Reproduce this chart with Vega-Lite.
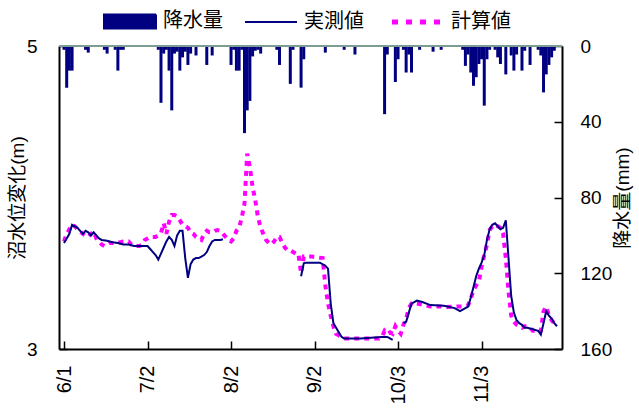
{
  "$schema": "https://vega.github.io/schema/vega-lite/v6.json",
  "autosize": "none",
  "width": 503,
  "height": 303,
  "padding": {"left": 59, "top": 46, "right": 77, "bottom": 61},
  "background": "white",
  "config": {
    "view": {"stroke": null},
    "font": "'Liberation Sans', 'Noto Sans CJK JP', sans-serif"
  },
  "datasets": {
    "rain": [
      {"d":0,"mm":2},{"d":1,"mm":22},{"d":2,"mm":13},{"d":3,"mm":13},{"d":8,"mm":2},{"d":9,"mm":3.5},{"d":15,"mm":2},{"d":16,"mm":4},{"d":19,"mm":2},{"d":20,"mm":13},{"d":21,"mm":2},{"d":22,"mm":2},
      {"d":35,"mm":2},{"d":36,"mm":30},{"d":37,"mm":4},{"d":38,"mm":2},{"d":39,"mm":13},{"d":40,"mm":34},{"d":41,"mm":4},{"d":42,"mm":3},{"d":43,"mm":13},{"d":44,"mm":6},{"d":45,"mm":3},{"d":46,"mm":10},{"d":47,"mm":4},{"d":49,"mm":5},{"d":53,"mm":10},{"d":55,"mm":5},
      {"d":62,"mm":10},{"d":63,"mm":2},{"d":64,"mm":13},{"d":65,"mm":13},{"d":66,"mm":2},{"d":67,"mm":46},{"d":68,"mm":34},{"d":69,"mm":29},{"d":70,"mm":5.5},{"d":71,"mm":2.5},{"d":72,"mm":2},{"d":73,"mm":4},{"d":79,"mm":2},{"d":80,"mm":10},{"d":84,"mm":20},{"d":85,"mm":2},{"d":88,"mm":22},{"d":89,"mm":7},
      {"d":97,"mm":3.5},{"d":104,"mm":2},{"d":108,"mm":4.5},{"d":119,"mm":36},{"d":120,"mm":4.5},{"d":123,"mm":19},{"d":124,"mm":7},{"d":126,"mm":2},{"d":127,"mm":14},{"d":128,"mm":4.5},{"d":129,"mm":14},{"d":132,"mm":2},{"d":137,"mm":3},{"d":140,"mm":2},
      {"d":148,"mm":2},{"d":149,"mm":10.5},{"d":150,"mm":4.5},{"d":151,"mm":14},{"d":152,"mm":21},{"d":153,"mm":16.5},{"d":154,"mm":9.5},{"d":155,"mm":7},{"d":156,"mm":31.5},{"d":157,"mm":7},{"d":158,"mm":2},
      {"d":160,"mm":2},{"d":161,"mm":6},{"d":162,"mm":9.5},{"d":164,"mm":15},{"d":166,"mm":5},{"d":167,"mm":13},{"d":168,"mm":4.5},{"d":170,"mm":13},{"d":171,"mm":2.5},{"d":173,"mm":10},{"d":176,"mm":2},{"d":177,"mm":5},{"d":178,"mm":24.5},{"d":179,"mm":15},{"d":180,"mm":10},{"d":181,"mm":6},{"d":182,"mm":2.5}
    ],
    "obs": [
      {"d":0,"v":3.70,"s":1},{"d":1,"v":3.73,"s":1},{"d":2,"v":3.76,"s":1},{"d":3,"v":3.82,"s":1},{"d":4,"v":3.81,"s":1},{"d":5,"v":3.80,"s":1},{"d":6,"v":3.78,"s":1},{"d":7,"v":3.76,"s":1},{"d":8,"v":3.78,"s":1},{"d":9,"v":3.77,"s":1},{"d":10,"v":3.75,"s":1},{"d":11,"v":3.77,"s":1},{"d":12,"v":3.75,"s":1},{"d":13,"v":3.73,"s":1},{"d":14,"v":3.72,"s":1},{"d":16,"v":3.715,"s":1},{"d":18,"v":3.705,"s":1},{"d":20,"v":3.70,"s":1},{"d":22,"v":3.69,"s":1},{"d":24,"v":3.69,"s":1},{"d":26,"v":3.68,"s":1},{"d":28,"v":3.68,"s":1},{"d":30,"v":3.68,"s":1},{"d":31,"v":3.68,"s":1},{"d":32,"v":3.66,"s":1},{"d":33,"v":3.64,"s":1},{"d":34,"v":3.62,"s":1},{"d":35,"v":3.59,"s":1},{"d":36,"v":3.63,"s":1},{"d":37,"v":3.67,"s":1},{"d":38,"v":3.71,"s":1},{"d":39,"v":3.74,"s":1},{"d":40,"v":3.72,"s":1},{"d":41,"v":3.68,"s":1},{"d":42,"v":3.75,"s":1},{"d":43,"v":3.78,"s":1},{"d":44,"v":3.78,"s":1},{"d":45,"v":3.60,"s":1},{"d":46,"v":3.47,"s":1},{"d":47,"v":3.56,"s":1},{"d":48,"v":3.59,"s":1},{"d":49,"v":3.60,"s":1},{"d":50,"v":3.60,"s":1},{"d":51,"v":3.61,"s":1},{"d":52,"v":3.62,"s":1},{"d":53,"v":3.64,"s":1},{"d":54,"v":3.68,"s":1},{"d":55,"v":3.71,"s":1},{"d":56,"v":3.72,"s":1},{"d":57,"v":3.72,"s":1},{"d":58,"v":3.72,"s":1},{"d":59,"v":3.725,"s":1},
      {"d":88,"v":3.48,"s":2},{"d":89,"v":3.565,"s":2},{"d":90,"v":3.57,"s":2},{"d":95,"v":3.57,"s":2},{"d":97,"v":3.55,"s":2},{"d":98,"v":3.53,"s":2},{"d":99,"v":3.30,"s":2},{"d":100,"v":3.17,"s":2},{"d":101,"v":3.14,"s":2},{"d":102,"v":3.11,"s":2},{"d":103,"v":3.08,"s":2},{"d":104,"v":3.07,"s":2},{"d":110,"v":3.07,"s":2},{"d":118,"v":3.08,"s":2},{"d":120,"v":3.08,"s":2},{"d":121,"v":3.07,"s":2},{"d":122,"v":3.06,"s":2},
      {"d":126,"v":3.17,"s":3},{"d":127,"v":3.18,"s":3},{"d":128,"v":3.24,"s":3},{"d":129,"v":3.30,"s":3},{"d":131,"v":3.32,"s":3},{"d":133,"v":3.31,"s":3},{"d":136,"v":3.29,"s":3},{"d":141,"v":3.285,"s":3},{"d":145,"v":3.27,"s":3},{"d":147,"v":3.25,"s":3},{"d":148,"v":3.26,"s":3},{"d":150,"v":3.28,"s":3},{"d":151,"v":3.34,"s":3},{"d":152,"v":3.41,"s":3},{"d":153,"v":3.48,"s":3},{"d":154,"v":3.53,"s":3},{"d":155,"v":3.57,"s":3},{"d":156,"v":3.62,"s":3},{"d":157,"v":3.72,"s":3},{"d":158,"v":3.79,"s":3},{"d":159,"v":3.82,"s":3},{"d":160,"v":3.83,"s":3},{"d":161,"v":3.81,"s":3},{"d":162,"v":3.79,"s":3},{"d":163,"v":3.80,"s":3},{"d":164,"v":3.85,"s":3},{"d":165,"v":3.60,"s":3},{"d":166,"v":3.35,"s":3},{"d":167,"v":3.24,"s":3},{"d":168,"v":3.19,"s":3},{"d":169,"v":3.17,"s":3},{"d":170,"v":3.16,"s":3},{"d":171,"v":3.14,"s":3},{"d":172,"v":3.14,"s":3},{"d":174,"v":3.13,"s":3},{"d":176,"v":3.12,"s":3},{"d":177,"v":3.095,"s":3},{"d":178,"v":3.17,"s":3},{"d":179,"v":3.25,"s":3},{"d":180,"v":3.22,"s":3},{"d":181,"v":3.20,"s":3},{"d":182,"v":3.17,"s":3},{"d":183,"v":3.15,"s":3}
    ],
    "calc": [
      {"d":0,"v":3.71},{"d":1,"v":3.76},{"d":2,"v":3.79},{"d":3,"v":3.82},{"d":4,"v":3.81},{"d":5,"v":3.79},{"d":6,"v":3.775},{"d":7,"v":3.76},{"d":8,"v":3.75},{"d":9,"v":3.74},{"d":10,"v":3.76},{"d":11,"v":3.775},{"d":12,"v":3.73},{"d":13,"v":3.71},{"d":14,"v":3.69},{"d":15,"v":3.68},{"d":16,"v":3.69},{"d":17,"v":3.70},{"d":18,"v":3.70},{"d":20,"v":3.70},{"d":22,"v":3.71},{"d":24,"v":3.71},{"d":25,"v":3.69},{"d":26,"v":3.68},{"d":28,"v":3.68},{"d":29,"v":3.69},{"d":30,"v":3.72},{"d":31,"v":3.73},{"d":32,"v":3.74},{"d":34,"v":3.74},{"d":35,"v":3.75},{"d":36,"v":3.765},{"d":37,"v":3.83},{"d":38,"v":3.76},{"d":39,"v":3.84},{"d":40,"v":3.885},{"d":41,"v":3.885},{"d":42,"v":3.875},{"d":43,"v":3.85},{"d":44,"v":3.82},{"d":45,"v":3.81},{"d":46,"v":3.80},{"d":47,"v":3.77},{"d":48,"v":3.76},{"d":49,"v":3.74},{"d":50,"v":3.73},{"d":51,"v":3.72},{"d":52,"v":3.76},{"d":53,"v":3.78},{"d":54,"v":3.77},{"d":55,"v":3.77},{"d":56,"v":3.78},{"d":57,"v":3.785},{"d":58,"v":3.78},{"d":59,"v":3.76},{"d":60,"v":3.74},{"d":61,"v":3.72},{"d":62,"v":3.71},{"d":63,"v":3.73},{"d":64,"v":3.78},{"d":65,"v":3.80},{"d":66,"v":3.87},{"d":67,"v":3.96},{"d":68,"v":4.29},{"d":69,"v":4.20},{"d":70,"v":4.07},{"d":71,"v":3.98},{"d":72,"v":3.87},{"d":73,"v":3.80},{"d":74,"v":3.76},{"d":75,"v":3.72},{"d":76,"v":3.70},{"d":77,"v":3.69},{"d":78,"v":3.71},{"d":79,"v":3.74},{"d":80,"v":3.74},{"d":81,"v":3.70},{"d":82,"v":3.67},{"d":83,"v":3.65},{"d":84,"v":3.65},{"d":85,"v":3.64},{"d":86,"v":3.63},{"d":87,"v":3.63},{"d":88,"v":3.50},{"d":89,"v":3.61},{"d":92,"v":3.61},{"d":96,"v":3.60},{"d":97,"v":3.42},{"d":98,"v":3.30},{"d":99,"v":3.22},{"d":100,"v":3.15},{"d":101,"v":3.10},{"d":102,"v":3.09},{"d":103,"v":3.08},{"d":104,"v":3.07},{"d":110,"v":3.07},{"d":117,"v":3.07},{"d":118,"v":3.08},{"d":119,"v":3.12},{"d":120,"v":3.10},{"d":121,"v":3.11},{"d":122,"v":3.10},{"d":123,"v":3.15},{"d":124,"v":3.12},{"d":125,"v":3.10},{"d":126,"v":3.16},{"d":127,"v":3.20},{"d":128,"v":3.27},{"d":129,"v":3.30},{"d":131,"v":3.30},{"d":134,"v":3.29},{"d":136,"v":3.28},{"d":140,"v":3.28},{"d":142,"v":3.277},{"d":146,"v":3.28},{"d":148,"v":3.28},{"d":150,"v":3.29},{"d":151,"v":3.33},{"d":152,"v":3.39},{"d":153,"v":3.42},{"d":154,"v":3.445},{"d":155,"v":3.545},{"d":156,"v":3.62},{"d":157,"v":3.69},{"d":158,"v":3.785},{"d":159,"v":3.81},{"d":160,"v":3.82},{"d":161,"v":3.81},{"d":162,"v":3.80},{"d":163,"v":3.76},{"d":164,"v":3.60},{"d":165,"v":3.38},{"d":166,"v":3.22},{"d":167,"v":3.18},{"d":168,"v":3.16},{"d":169,"v":3.15},{"d":170,"v":3.14},{"d":171,"v":3.15},{"d":172,"v":3.15},{"d":173,"v":3.14},{"d":174,"v":3.12},{"d":175,"v":3.12},{"d":176,"v":3.11},{"d":177,"v":3.12},{"d":178,"v":3.25},{"d":179,"v":3.28},{"d":180,"v":3.22},{"d":181,"v":3.19},{"d":182,"v":3.17},{"d":183,"v":3.15}
    ]
  },
  "layer": [
    {
      "data": {"name": "rain"},
      "mark": {"type": "bar", "size": 3},
      "encoding": {
        "x": {
          "field": "d", "type": "quantitative",
          "scale": {"domain": [0, 183], "nice": false, "zero": false},
          "axis": {
            "values": [0, 31, 62, 93, 124, 155],
            "labelExpr": "timeFormat(datetime(2001, 5, 1 + datum.value), '%-m/%-d')",
            "labelAngle": 270, "labelFlush": false, "labelOverlap": false,
            "labelFontSize": 20, "labelColor": "black", "labelPadding": 24,
            "tickSize": -8, "tickColor": "black", "tickWidth": 1.5,
            "domainColor": "black", "domainWidth": 2,
            "grid": false, "title": null
          }
        },
        "y": {
          "field": "mm", "type": "quantitative",
          "scale": {"domain": [0, 160], "reverse": true, "nice": false},
          "axis": {
            "orient": "right", "values": [0, 40, 80, 120, 160],
            "labelFontSize": 19, "labelColor": "black", "labelPadding": 26,
            "tickSize": -8, "tickColor": "black", "tickWidth": 1.5,
            "domainColor": "black", "domainWidth": 2, "grid": false,
            "title": "降水量(mm)", "titleAngle": 270, "titleFontSize": 19,
            "titleFontWeight": "normal", "titleColor": "black", "titlePadding": 21
          }
        },
        "color": {
          "datum": "降水量", "type": "nominal",
          "scale": {"domain": ["降水量", "実測値", "計算値"], "range": ["#000080", "#000080", "#ff00ff"]},
          "legend": {
            "orient": "none", "legendX": 61, "legendY": -35,
            "direction": "horizontal", "title": null,
            "symbolSize": 2704, "labelFontSize": 20, "labelColor": "black",
            "labelOffset": 23, "columnPadding": 18,
            "encode": {
              "symbols": {
                "update": {
                  "shape": {"signal": "datum.value === '降水量' ? 'M-1,-0.27H1V0.27H-1Z' : 'M-1,0H1'"},
                  "fill": {"signal": "datum.value === '降水量' ? '#000080' : 'transparent'"},
                  "stroke": {"signal": "datum.value === '計算値' ? '#ff00ff' : '#000080'"},
                  "strokeWidth": {"signal": "datum.value === '計算値' ? 5 : 2"},
                  "strokeDash": {"signal": "datum.value === '計算値' ? [6, 8] : [1, 0]"},
                  "opacity": {"value": 1}
                }
              }
            }
          }
        }
      }
    },
    {
      "layer": [
        {
          "data": {"name": "calc"},
          "mark": {"type": "line", "strokeWidth": 4, "strokeDash": [5, 5], "strokeCap": "butt"},
          "encoding": {
            "x": {"field": "d", "type": "quantitative"},
            "y": {
              "field": "v", "type": "quantitative",
              "scale": {"domain": [3, 5], "nice": false, "zero": false},
              "axis": {
                "orient": "left", "values": [3, 4, 5], "format": "d",
                "labelFontSize": 19, "labelColor": "black", "labelPadding": 30,
                "tickSize": -8, "tickColor": "black", "tickWidth": 1.5,
                "domainColor": "black", "domainWidth": 2, "grid": false,
                "title": "沼水位変化(m)", "titleFontSize": 19,
                "titleFontWeight": "normal", "titleColor": "black", "titlePadding": -1
              }
            },
            "color": {"datum": "計算値", "type": "nominal"}
          }
        },
        {
          "data": {"name": "obs"},
          "mark": {"type": "line", "strokeWidth": 2},
          "encoding": {
            "x": {"field": "d", "type": "quantitative"},
            "y": {"field": "v", "type": "quantitative"},
            "detail": {"field": "s", "type": "nominal"},
            "color": {"datum": "実測値", "type": "nominal"}
          }
        },
        {
          "data": {"values": [{"lvl": 5}]},
          "mark": {"type": "rule", "color": "#7c9c94", "strokeWidth": 2},
          "encoding": {"y": {"field": "lvl", "type": "quantitative"}}
        }
      ]
    }
  ],
  "resolve": {"scale": {"y": "independent"}}
}
